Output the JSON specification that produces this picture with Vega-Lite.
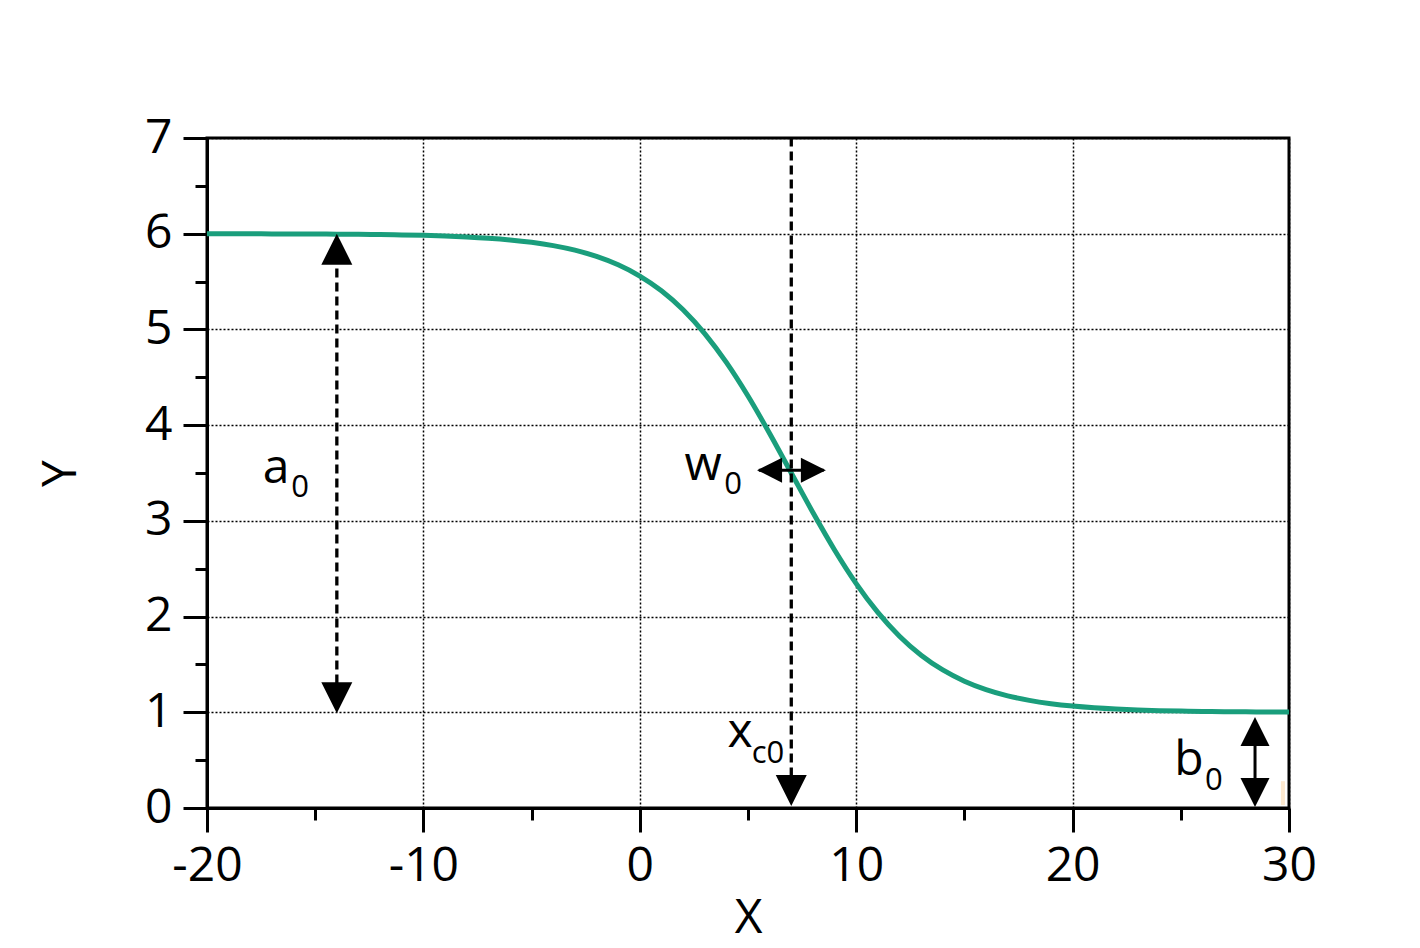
{
  "$schema": "https://vega.github.io/schema/vega-lite/v6.json",
  "description": "Boltzmann sigmoid with annotated parameters a0, b0, xc0 and w0.",
  "width": 1082,
  "height": 670,
  "autosize": {"type": "none"},
  "padding": {"left": 207, "top": 138, "right": 131, "bottom": 140},
  "background": "white",
  "config": {
    "font": "Open Sans",
    "view": {"stroke": "black", "strokeWidth": 3},
    "axis": {"labelFont": "Open Sans", "titleFont": "Open Sans"}
  },
  "datasets": {
    "curve": [
      {"x": -20, "y": 5.9994}, {"x": -19, "y": 5.9991}, {"x": -18, "y": 5.9988}, {"x": -17, "y": 5.9983},
      {"x": -16, "y": 5.9977}, {"x": -15, "y": 5.9967}, {"x": -14, "y": 5.9954}, {"x": -13, "y": 5.9936},
      {"x": -12, "y": 5.9911}, {"x": -11, "y": 5.9876}, {"x": -10, "y": 5.9828}, {"x": -9, "y": 5.976},
      {"x": -8, "y": 5.9665}, {"x": -7, "y": 5.9534}, {"x": -6, "y": 5.9352}, {"x": -5, "y": 5.91},
      {"x": -4, "y": 5.8754}, {"x": -3, "y": 5.8278}, {"x": -2, "y": 5.7629}, {"x": -1, "y": 5.6752},
      {"x": 0, "y": 5.558}, {"x": 1, "y": 5.404}, {"x": 2, "y": 5.2057}, {"x": 3, "y": 4.9569},
      {"x": 4, "y": 4.6553}, {"x": 5, "y": 4.3038}, {"x": 6, "y": 3.9129}, {"x": 7, "y": 3.5},
      {"x": 8, "y": 3.0872}, {"x": 9, "y": 2.6962}, {"x": 10, "y": 2.3447}, {"x": 11, "y": 2.043},
      {"x": 12, "y": 1.7943}, {"x": 13, "y": 1.596}, {"x": 14, "y": 1.442}, {"x": 15, "y": 1.3248},
      {"x": 16, "y": 1.2371}, {"x": 17, "y": 1.1722}, {"x": 18, "y": 1.1246}, {"x": 19, "y": 1.0899},
      {"x": 20, "y": 1.0648}, {"x": 21, "y": 1.0466}, {"x": 22, "y": 1.0335}, {"x": 23, "y": 1.024},
      {"x": 24, "y": 1.0172}, {"x": 25, "y": 1.0124}, {"x": 26, "y": 1.0089}, {"x": 27, "y": 1.0064},
      {"x": 28, "y": 1.0046}, {"x": 29, "y": 1.0033}, {"x": 30, "y": 1.0023}
    ],
    "dashed": [
      {"name": "a0", "x": -14, "y": 1.3, "y2": 5.68},
      {"name": "xc0", "x": 7, "y": 0.33, "y2": 7}
    ],
    "solidV": [{"name": "b0", "x": 28.43, "y": 0.3, "y2": 0.66}],
    "solidH": [{"name": "w0", "x": 5.5, "x2": 8.5, "y": 3.53}],
    "headsBig": [
      {"name": "a0", "x": -14, "y": 6, "dir": "up"},
      {"name": "a0", "x": -14, "y": 0.99, "dir": "down"},
      {"name": "xc0", "x": 7, "y": 0.02, "dir": "down"}
    ],
    "headsMid": [
      {"name": "b0", "x": 28.43, "y": 0.95, "dir": "up"},
      {"name": "b0", "x": 28.43, "y": 0.01, "dir": "down"}
    ],
    "headsSmall": [
      {"name": "w0", "x": 5.42, "y": 3.53, "dir": "left"},
      {"name": "w0", "x": 8.6, "y": 3.53, "dir": "right"}
    ],
    "labels": [
      {"text": "a", "x": -16.81, "y": 3.396},
      {"text": "w", "x": 2.92, "y": 3.427},
      {"text": "x", "x": 4.63, "y": 0.637},
      {"text": "b", "x": 25.38, "y": 0.345}
    ],
    "subs": [
      {"text": "0", "x": -15.7, "y": 3.249},
      {"text": "0", "x": 4.31, "y": 3.281},
      {"text": "c0", "x": 5.92, "y": 0.47},
      {"text": "0", "x": 26.53, "y": 0.188}
    ],
    "speck": [{"x": 29.72, "y": 0.03, "y2": 0.28}]
  },
  "layer": [
    {
      "data": {"name": "curve"},
      "mark": {"type": "line", "color": "#1a9e7c", "strokeWidth": 5, "interpolate": "monotone"},
      "encoding": {
        "x": {
          "field": "x", "type": "quantitative",
          "scale": {"domain": [-20, 30], "nice": false, "zero": false},
          "axis": {
            "orient": "bottom", "title": "X", "values": [-20, -10, 0, 10, 20, 30], "format": "d",
            "labelExpr": "replace(datum.label, '\u2212', '-')",
            "domainColor": "black", "domainWidth": 3,
            "tickColor": "black", "tickWidth": 3, "tickSize": 24,
            "labelFontSize": 48, "labelColor": "black", "labelPadding": 10,
            "labelFlush": false, "labelOverlap": false,
            "titleFontSize": 48, "titleFontWeight": "normal", "titleColor": "black",
            "titleBaseline": "alphabetic", "titleX": 541, "titleY": 124,
            "grid": true, "gridColor": "black", "gridDash": [2, 2], "gridWidth": 1.5, "gridOpacity": 1
          }
        },
        "y": {
          "field": "y", "type": "quantitative",
          "scale": {"domain": [0, 7], "nice": false, "zero": false},
          "axis": {
            "orient": "left", "title": "Y", "values": [0, 1, 2, 3, 4, 5, 6, 7], "format": "d",
            "domainColor": "black", "domainWidth": 3,
            "tickColor": "black", "tickWidth": 3, "tickSize": 24,
            "labelFontSize": 48, "labelColor": "black", "labelPadding": 11,
            "labelFlush": false, "labelOverlap": false,
            "titleFontSize": 48, "titleFontWeight": "normal", "titleColor": "black",
            "titleAngle": -90, "titleBaseline": "alphabetic", "titleX": -132, "titleY": 335,
            "grid": true, "gridColor": "black", "gridDash": [2, 2], "gridWidth": 1.5, "gridOpacity": 1
          }
        }
      }
    },
    {
      "data": {"name": "dashed"},
      "mark": {"type": "rule", "color": "black", "strokeWidth": 3.3, "strokeDash": [9, 5]},
      "encoding": {
        "x": {
          "field": "x", "type": "quantitative",
          "axis": {
            "orient": "bottom", "title": null, "values": [-15, -5, 5, 15, 25],
            "domain": false, "labels": false, "grid": false,
            "tickColor": "black", "tickWidth": 3, "tickSize": 12
          }
        },
        "y": {
          "field": "y", "type": "quantitative",
          "axis": {
            "orient": "left", "title": null, "values": [0.5, 1.5, 2.5, 3.5, 4.5, 5.5, 6.5],
            "domain": false, "labels": false, "grid": false,
            "tickColor": "black", "tickWidth": 3, "tickSize": 12
          }
        },
        "y2": {"field": "y2"}
      }
    },
    {
      "data": {"name": "solidV"},
      "mark": {"type": "rule", "color": "black", "strokeWidth": 3},
      "encoding": {
        "x": {"field": "x", "type": "quantitative", "axis": null},
        "y": {"field": "y", "type": "quantitative", "axis": null},
        "y2": {"field": "y2"}
      }
    },
    {
      "data": {"name": "solidH"},
      "mark": {"type": "rule", "color": "black", "strokeWidth": 3},
      "encoding": {
        "x": {"field": "x", "type": "quantitative", "axis": null},
        "x2": {"field": "x2"},
        "y": {"field": "y", "type": "quantitative", "axis": null}
      }
    },
    {
      "data": {"name": "speck"},
      "mark": {"type": "rule", "color": "#fde9cf", "strokeWidth": 4},
      "encoding": {
        "x": {"field": "x", "type": "quantitative", "axis": null},
        "y": {"field": "y", "type": "quantitative", "axis": null},
        "y2": {"field": "y2"}
      }
    },
    {
      "data": {"name": "headsBig"},
      "mark": {"type": "point", "filled": true, "color": "black", "opacity": 1, "size": 961, "strokeWidth": 0},
      "encoding": {
        "x": {"field": "x", "type": "quantitative", "axis": null},
        "y": {"field": "y", "type": "quantitative", "axis": null},
        "shape": {
          "field": "dir", "type": "nominal", "legend": null,
          "scale": {"domain": ["up", "down", "left", "right"], "range": ["M0,0L1,2L-1,2Z", "M0,0L1,-2L-1,-2Z", "M0,0L2,-1L2,1Z", "M0,0L-2,-1L-2,1Z"]}
        }
      }
    },
    {
      "data": {"name": "headsMid"},
      "mark": {"type": "point", "filled": true, "color": "black", "opacity": 1, "size": 841, "strokeWidth": 0},
      "encoding": {
        "x": {"field": "x", "type": "quantitative", "axis": null},
        "y": {"field": "y", "type": "quantitative", "axis": null},
        "shape": {
          "field": "dir", "type": "nominal", "legend": null,
          "scale": {"domain": ["up", "down", "left", "right"], "range": ["M0,0L1,2L-1,2Z", "M0,0L1,-2L-1,-2Z", "M0,0L2,-1L2,1Z", "M0,0L-2,-1L-2,1Z"]}
        }
      }
    },
    {
      "data": {"name": "headsSmall"},
      "mark": {"type": "point", "filled": true, "color": "black", "opacity": 1, "size": 625, "strokeWidth": 0},
      "encoding": {
        "x": {"field": "x", "type": "quantitative", "axis": null},
        "y": {"field": "y", "type": "quantitative", "axis": null},
        "shape": {
          "field": "dir", "type": "nominal", "legend": null,
          "scale": {"domain": ["up", "down", "left", "right"], "range": ["M0,0L1,2L-1,2Z", "M0,0L1,-2L-1,-2Z", "M0,0L2,-1L2,1Z", "M0,0L-2,-1L-2,1Z"]}
        }
      }
    },
    {
      "data": {"name": "labels"},
      "mark": {"type": "text", "font": "Open Sans", "fontSize": 48, "color": "black", "align": "center", "baseline": "alphabetic"},
      "encoding": {
        "x": {"field": "x", "type": "quantitative", "axis": null},
        "y": {"field": "y", "type": "quantitative", "axis": null},
        "text": {"field": "text"}
      }
    },
    {
      "data": {"name": "subs"},
      "mark": {"type": "text", "font": "Open Sans", "fontSize": 31, "color": "black", "align": "center", "baseline": "alphabetic"},
      "encoding": {
        "x": {"field": "x", "type": "quantitative", "axis": null},
        "y": {"field": "y", "type": "quantitative", "axis": null},
        "text": {"field": "text"}
      }
    }
  ],
  "resolve": {"axis": {"x": "independent", "y": "independent"}}
}
